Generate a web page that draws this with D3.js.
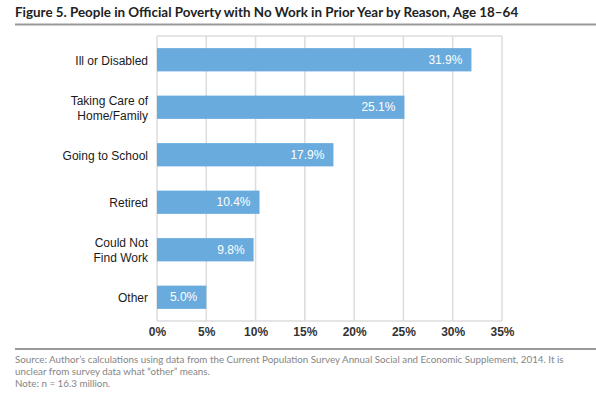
<!DOCTYPE html>
<html>
<head>
<meta charset="utf-8">
<script src="https://cdn.jsdelivr.net/npm/d3@7"></script>
<style>
  body { margin: 0; background: #fff; }
  svg { display: block; }
</style>
</head>
<body>
<div id="chart"></div>
<script>
const categories = ["Ill or Disabled", "Taking Care of|Home/Family", "Going to School", "Retired", "Could Not|Find Work", "Other"];
const values = [31.9, 25.1, 17.9, 10.4, 9.8, 5.0];
const tickValues = [0, 5, 10, 15, 20, 25, 30, 35];

const title = "Figure 5. People in Official Poverty with No Work in Prior Year by Reason, Age 18\u201364";
const notes = [
  "Source: Author\u2019s calculations using data from the Current Population Survey Annual Social and Economic Supplement, 2014. It is",
  "unclear from survey data what \u201cother\u201d means.",
  "Note: n = 16.3 million."
];

const W = 596, H = 396;
const plot = { left: 157, right: 502, top: 36, bottom: 321 };

const svg = d3.select("#chart").append("svg").attr("width", W).attr("height", H);

// title and rules
svg.append("text")
  .attr("x", 15).attr("y", 17)
  .attr("font-family", "Lato, sans-serif")
  .attr("font-weight", 700)
  .attr("font-size", 13.4)
  .attr("fill", "#222")
  .text(title);

svg.append("line")
  .attr("x1", 15).attr("x2", W).attr("y1", 24.5).attr("y2", 24.5)
  .attr("stroke", "#999").attr("stroke-width", 2);

svg.append("line")
  .attr("x1", 15).attr("x2", W).attr("y1", 349).attr("y2", 349)
  .attr("stroke", "#999").attr("stroke-width", 2);

const x = d3.scaleLinear().domain([0, 35]).range([plot.left, plot.right]);
const y = d3.scaleBand().domain(categories).range([plot.top, plot.bottom]).paddingInner(0.51).paddingOuter(0.255);

// gridlines
svg.append("g")
  .selectAll("line")
  .data(tickValues)
  .join("line")
  .attr("x1", (d) => x(d)).attr("x2", (d) => x(d))
  .attr("y1", plot.top).attr("y2", plot.bottom)
  .attr("stroke", "#dcdcdc").attr("stroke-width", 1.5);

svg.append("line")
  .attr("x1", plot.left).attr("x2", plot.right)
  .attr("y1", plot.top).attr("y2", plot.top)
  .attr("stroke", "#dcdcdc").attr("stroke-width", 1.5);
svg.append("line")
  .attr("x1", plot.left).attr("x2", plot.right)
  .attr("y1", plot.bottom).attr("y2", plot.bottom)
  .attr("stroke", "#dcdcdc").attr("stroke-width", 1.5);

// bars
svg.append("g")
  .selectAll("rect")
  .data(values)
  .join("rect")
  .attr("x", x(0))
  .attr("y", (d, i) => y(categories[i]))
  .attr("width", (d) => x(d) - x(0))
  .attr("height", y.bandwidth())
  .attr("fill", "#6aabdd");

// value labels
svg.append("g")
  .selectAll("text")
  .data(values)
  .join("text")
  .attr("x", (d) => x(d) - 9)
  .attr("y", (d, i) => y(categories[i]) + y.bandwidth() / 2)
  .attr("dy", "0.35em")
  .attr("text-anchor", "end")
  .attr("font-family", "Liberation Sans, Arial, sans-serif")
  .attr("font-size", 12)
  .attr("fill", "#fff")
  .text((d) => d.toFixed(1) + "%");

// category labels
const catG = svg.append("g");
categories.forEach((c, i) => {
  const lines = c.split("|");
  const cy = y(c) + y.bandwidth() / 2;
  const t = catG.append("text")
    .attr("x", 148)
    .attr("text-anchor", "end")
    .attr("font-family", "Liberation Sans, Arial, sans-serif")
    .attr("font-size", 12)
    .attr("fill", "#1a1a1a");
  lines.forEach((line, j) => {
    t.append("tspan")
      .attr("x", 148)
      .attr("y", cy + 1 + (j - (lines.length - 1) / 2) * 15)
      .attr("dy", "0.35em")
      .text(line);
  });
});

// x axis
const xAxis = d3.axisBottom(x).tickValues(tickValues).tickSize(0).tickPadding(6).tickFormat((d) => d + "%");
const axisG = svg.append("g")
  .attr("transform", `translate(0, ${plot.bottom})`)
  .call(xAxis);
axisG.select(".domain").remove();
axisG.selectAll("text")
  .attr("font-family", "Liberation Sans, Arial, sans-serif")
  .attr("font-size", 12)
  .attr("font-weight", 700)
  .attr("fill", "#333");

// notes
svg.append("g")
  .selectAll("text")
  .data(notes)
  .join("text")
  .attr("x", 15)
  .attr("y", (d, i) => 363 + i * 12)
  .attr("font-family", "Lato, sans-serif")
  .attr("font-weight", 400)
  .attr("font-size", 9.8)
  .attr("fill", "#858585")
  .text((d) => d);
</script>
</body>
</html>
